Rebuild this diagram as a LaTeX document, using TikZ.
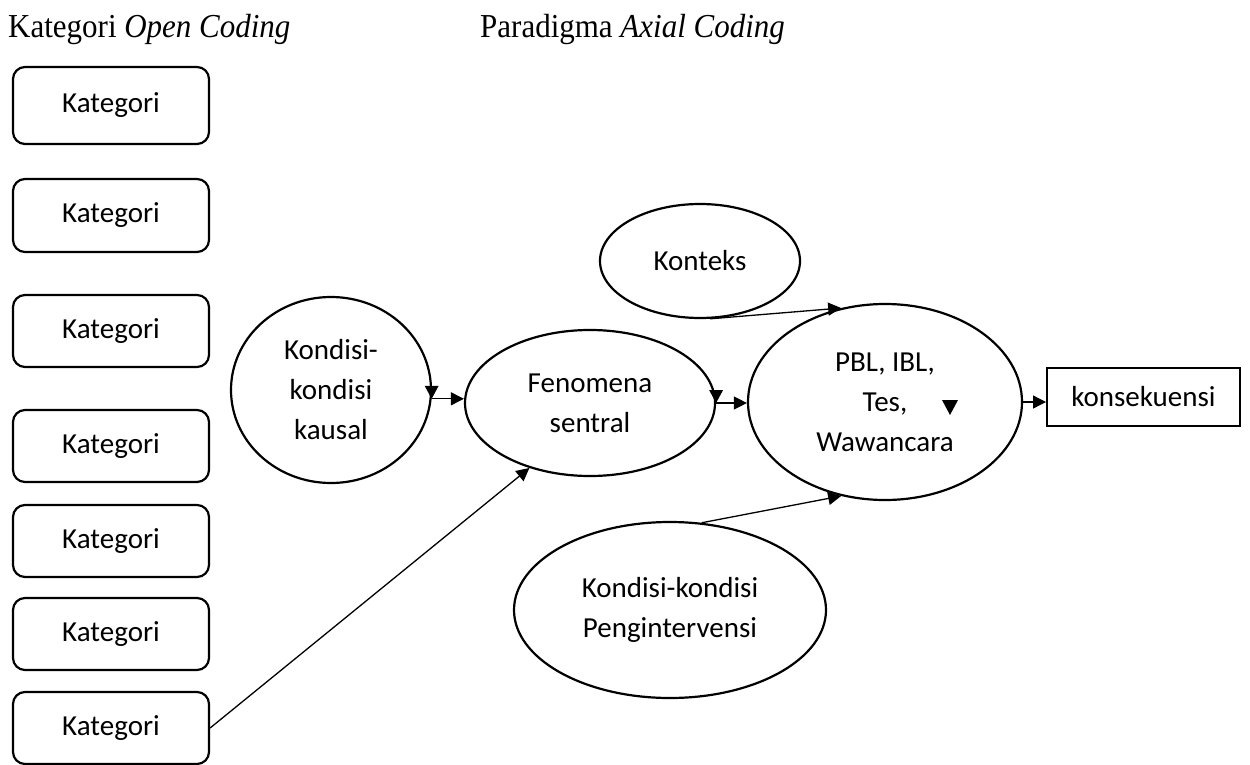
\documentclass[tikz,border=0pt]{standalone}
\usepackage{fontspec}
\setmainfont{Carlito}
\newfontfamily\tnr{Liberation Serif}
\usetikzlibrary{shapes.geometric,arrows.meta,calc}
\tikzset{
  kat/.style={draw, line width=2.2pt, rounded corners=12pt, minimum width=196pt, inner sep=0pt, font=\fontsize{29}{40}\selectfont},
  oval/.style={draw, ellipse, line width=2.2pt, inner sep=0pt, align=center, font=\fontsize{29}{40}\selectfont},
  rbox/.style={draw, rectangle, line width=2pt, inner sep=0pt, font=\fontsize{29}{40}\selectfont},
  conn/.style={line width=1.3pt, -{Triangle[length=13pt,width=13pt]}},
  title/.style={anchor=base west, inner sep=0pt, font=\tnr\fontsize{33.5}{38}\selectfont}
}
\begin{document}
\begin{tikzpicture}[x=1pt,y=-1pt]
\useasboundingbox (0,0) rectangle (1250,765);
% titles
\node[title] (t1) at (8,38) {\scalebox{0.925}[1]{Kategori \textit{Open Coding}}};
\node[title] (t2) at (480,38) {\scalebox{0.925}[1]{Paradigma \textit{Axial Coding}}};
% kategori boxes
\node[kat, minimum height=77pt] (k1) at (111,105.5) {Kategori};
\node[kat, minimum height=73pt] (k2) at (111,215.5) {Kategori};
\node[kat, minimum height=72pt] (k3) at (111,331) {Kategori};
\node[kat, minimum height=72pt] (k4) at (111,446) {Kategori};
\node[kat, minimum height=72pt] (k5) at (111,541) {Kategori};
\node[kat, minimum height=72pt] (k6) at (111,634) {Kategori};
\node[kat, minimum height=72pt] (k7) at (111,728) {Kategori};
% ovals
\node[oval, minimum width=200pt, minimum height=186pt] (kk) at (331,390) {Kondisi-\\kondisi\\kausal};
\node[oval, minimum width=250pt, minimum height=146pt] (fen) at (590,403) {Fenomena\\sentral};
\node[oval, minimum width=274pt, minimum height=196pt] (pbl) at (885,402) {PBL, IBL,\\Tes,\\Wawancara};
\node[oval, minimum width=200pt, minimum height=114pt] (kon) at (700,261) {Konteks};
\node[oval, minimum width=312pt, minimum height=176pt] (peng) at (670,610) {Kondisi-kondisi\\Pengintervensi};
\node[rbox, minimum width=193pt, minimum height=58pt] (kons) at (1143.5,397) {konsekuensi};
% connectors
\draw[conn] (kk.-5) -- (kk.-5 -| fen.west);
\fill (kk.-5) -- ++(-7,-13) -- ++(14,0) -- cycle;
\draw[conn] (fen.east) -- (fen.east -| pbl.west);
\fill (fen.east) -- ++(-7,-13) -- ++(14,0) -- cycle;
\draw[conn] (pbl.east) -- (pbl.east -| kons.west);
\draw[conn] (kon.-80) -- (pbl.115);
\draw[conn] (peng.70) -- (pbl.-115);
\draw[conn] (k7.east) -- (fen.-133);
% stray triangle
\fill (942,400) -- (958,400) -- (950,415) -- cycle;
\end{tikzpicture}
\end{document}
